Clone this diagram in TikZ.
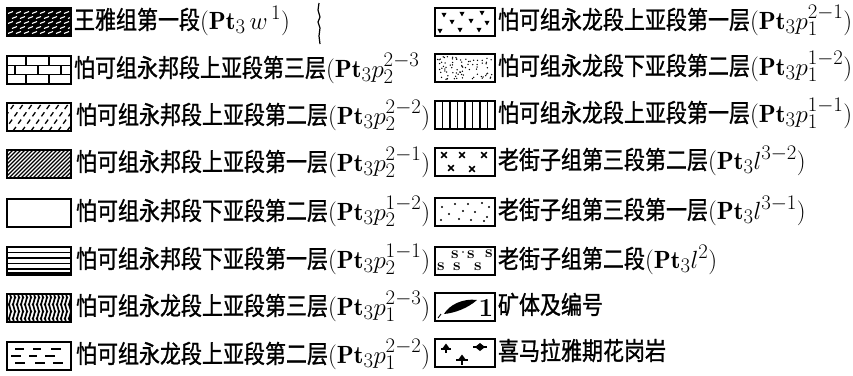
\documentclass[tikz,border=0pt]{standalone}
\usepackage{fontspec}
\usepackage{graphicx}
\newfontfamily\cjk[FakeBold=1.2]{Noto Sans CJK SC}
\newcommand\cn[1]{\scalebox{0.84}[1]{\fontsize{25}{27}\selectfont\cjk #1}}
\newcommand\fm[1]{{\fontsize{24.88}{27}\selectfont$#1$}}
\begin{document}
\begin{tikzpicture}[x=1pt,y=-1pt,
  frame/.style={draw=black,line width=1.9pt},
  lbl/.style={anchor=base west,inner sep=0pt,outer sep=0pt},
  patline/.style={line width=1.3pt},
  glyph/.style={inner sep=0pt,font=\bfseries\fontsize{17}{17}\selectfont}]
\useasboundingbox (0,0) rectangle (853,375);

% ---------- left column ----------
% L1 black with white dashes
\begin{scope}[shift={(7,8)}]
  \fill (0,0) rectangle (64,28);
  \begin{scope}
    \clip (0,0) rectangle (64,28);
    \foreach \r in {0,...,4}{
      \foreach \k in {0,...,8}{
        \draw[white,line width=1.1pt] ({\k*8+mod(\r,2)*4+1},{5.5+\r*5}) -- ++(5,-2);
      }
    }
  \end{scope}
  \draw[frame] (0,0) rectangle (64,28);
\end{scope}
% L2 brick
\begin{scope}[shift={(7,56)}]
  \draw[line width=1.5pt] (0,9.33) -- (64,9.33) (0,18.67) -- (64,18.67)
    (19,0) -- (19,9.33) (42,0) -- (42,9.33)
    (8,9.33) -- (8,18.67) (31,9.33) -- (31,18.67) (54,9.33) -- (54,18.67)
    (19,18.67) -- (19,28) (42,18.67) -- (42,28);
  \draw[frame] (0,0) rectangle (64,28);
\end{scope}
% L3 dashed diagonals
\begin{scope}[shift={(7,103)}]
  \begin{scope}
    \clip (0,0) rectangle (64,28);
    \foreach \x in {-30,-21,...,70}
      \draw[patline,dash pattern=on 5pt off 4pt] (\x,28) -- ++(20,-28);
  \end{scope}
  \draw[frame] (0,0) rectangle (64,28);
\end{scope}
% L4 hatch
\begin{scope}[shift={(7,150)}]
  \begin{scope}
    \clip (0,0) rectangle (64,28);
    \foreach \x in {-30,-26,...,66}
      \draw[line width=1.2pt] (\x,28) -- ++(28,-28);
  \end{scope}
  \draw[frame] (0,0) rectangle (64,28);
\end{scope}
% L5 empty
\begin{scope}[shift={(7,199)}]
  \draw[frame] (0,0) rectangle (64,28);
\end{scope}
% L6 horizontal lines
\begin{scope}[shift={(7,247)}]
  \draw[patline] (0,5.5) -- (64,5.5) (0,11) -- (64,11) (0,16.5) -- (64,16.5) (0,22) -- (64,22);
  \draw[line width=2.6pt] (0,26.5) -- (64,26.5);
  \draw[frame] (0,0) rectangle (64,28);
\end{scope}
% L7 wavy vertical lines
\begin{scope}[shift={(7,294)}]
  \begin{scope}
    \clip (0,0) rectangle (64,28);
    \foreach \x in {3,7,...,63}
      \draw[line width=1.7pt] (\x,0) sin ({\x+1.3},3.5) cos (\x,7) sin ({\x-1.3},10.5) cos (\x,14)
        sin ({\x+1.3},17.5) cos (\x,21) sin ({\x-1.3},24.5) cos (\x,28);
  \end{scope}
  \draw[frame] (0,0) rectangle (64,28);
\end{scope}
% L8 short dashes
\begin{scope}[shift={(7,342)}]
  \draw[patline] (8,7) -- (17,7) (26,7) -- (34,7) (44,7) -- (54,7)
    (4,14) -- (14,14) (22,14) -- (30,14) (38,14) -- (48,14)
    (8,21) -- (18,21) (28,21) -- (38,21) (46,21) -- (56,21);
  \draw[frame] (0,0) rectangle (64,28);
\end{scope}

% ---------- right column ----------
% R1 small triangles
\begin{scope}[shift={(435,8)}]
  \foreach \x/\y in {9/7,27/6,47/5,17/14,36/13,52/15,5/23,25/22,44/22}
    \fill (\x,\y) ++(-2.6,-2.2) -- ++(5.2,0) -- ++(-2.6,4.6) -- cycle;
  \draw[frame] (0,0) rectangle (60,28);
\end{scope}
% R2 fine dots
\begin{scope}[shift={(435,54)}]
  \pgfmathsetseed{7}
  \foreach \i in {1,...,80}
    \fill ({2.5+rnd*55},{2.5+rnd*23}) circle (0.75);
  \draw[frame] (0,0) rectangle (60,28);
\end{scope}
% R3 vertical lines
\begin{scope}[shift={(435,101)}]
  \foreach \x in {7.5,15,...,53}
    \draw[line width=1.6pt] (\x,0) -- (\x,28);
  \draw[frame] (0,0) rectangle (60,28);
\end{scope}
% R4 crosses
\begin{scope}[shift={(435,148)}]
  \foreach \x/\y in {9/7,27/7,49/7,16/20,37/21}
    \draw[line width=1.6pt] ({\x-2.8},{\y-2.8}) -- ({\x+2.8},{\y+2.8}) ({\x-2.8},{\y+2.8}) -- ({\x+2.8},{\y-2.8});
  \draw[frame] (0,0) rectangle (60,28);
\end{scope}
% R5 sparse dots
\begin{scope}[shift={(435,198)}]
  \foreach \x/\y in {7/9,20/6,33/6,47/5,54/9,14/16,28/13,40/14,52/19,6/22,24/21,36/22,49/23}
    \fill (\x,\y) circle (1.1);
  \draw[frame] (0,0) rectangle (60,28);
\end{scope}
% R6 s marks
\begin{scope}[shift={(435,247)}]
  \foreach \x/\y [count=\n] in {20/8,36/8,54/7,6/20,22/20,43/20}
    \node[glyph] (s\n) at (\x,\y) {s};
  \fill (28,5) circle (0.9);
  \draw[frame] (0,0) rectangle (60,28);
\end{scope}
% R7 ore body
\begin{scope}[shift={(435,293)}]
  \fill (9,21) .. controls (14,12) and (28,5) .. (42,7) .. controls (33,15) and (20,20) .. (9,21);
  \node[glyph,font=\bfseries\fontsize{26}{26}\selectfont] (one) at (51,15) {1};
  \draw[line width=0.9pt] (3,25) -- (6,21);
  \draw[frame] (0,0) rectangle (60,28);
\end{scope}
% R8 granite
\begin{scope}[shift={(435,339)}]
  \fill (11,4.5) -- (15,10) -- (7,10) -- cycle;
  \draw[line width=1.8pt] (6,10) -- (16,10) (11,10) -- (11,14);
  \fill (45,4) -- (50,8) -- (45,12) -- (40,8) -- cycle;
  \draw[line width=1.8pt] (38,8) -- (52,8);
  \fill (27,15.5) -- (31,21) -- (23,21) -- cycle;
  \draw[line width=1.8pt] (21,21) -- (33,21) (27,21) -- (27,26);
  \draw[frame] (0,0) rectangle (60,28);
\end{scope}

% small vertical mark near top
\draw[line width=1.2pt] (319,3) -- (318,10) -- (320,17) -- (318,22) -- (320,28) -- (319,36) -- (320,44);

% ---------- labels ----------
\node[lbl] (tL1) at (74,29)  {\cn{王雅组第一段}\fm{(\mathbf{Pt}_3\,w^{\,1})}};
\node[lbl] (tL2) at (74,77)  {\cn{怕可组永邦段上亚段第三层}\fm{(\mathbf{Pt}_3p_2^{2-3}}};
\node[lbl] (tL3) at (76,124) {\cn{怕可组永邦段上亚段第二层}\fm{(\mathbf{Pt}_3p_2^{2-2})}};
\node[lbl] (tL4) at (76,171) {\cn{怕可组永邦段上亚段第一层}\fm{(\mathbf{Pt}_3p_2^{2-1})}};
\node[lbl] (tL5) at (76,220) {\cn{怕可组永邦段下亚段第二层}\fm{(\mathbf{Pt}_3p_2^{1-2})}};
\node[lbl] (tL6) at (76,268) {\cn{怕可组永邦段下亚段第一层}\fm{(\mathbf{Pt}_3p_2^{1-1})}};
\node[lbl] (tL7) at (76,315) {\cn{怕可组永龙段上亚段第三层}\fm{(\mathbf{Pt}_3p_1^{2-3})}};
\node[lbl] (tL8) at (76,363) {\cn{怕可组永龙段上亚段第二层}\fm{(\mathbf{Pt}_3p_1^{2-2})}};

\node[lbl] (tR1) at (498,29)  {\cn{怕可组永龙段上亚段第一层}\fm{(\mathbf{Pt}_3p_1^{2-1})}};
\node[lbl] (tR2) at (498,75)  {\cn{怕可组永龙段下亚段第二层}\fm{(\mathbf{Pt}_3p_1^{1-2})}};
\node[lbl] (tR3) at (498,122) {\cn{怕可组永龙段上亚段第一层}\fm{(\mathbf{Pt}_3p_1^{1-1})}};
\node[lbl] (tR4) at (498,169) {\cn{老街子组第三段第二层}\fm{(\mathbf{Pt}_3l^{3-2})}};
\node[lbl] (tR5) at (498,219) {\cn{老街子组第三段第一层}\fm{(\mathbf{Pt}_3l^{3-1})}};
\node[lbl] (tR6) at (498,268) {\cn{老街子组第二段}\fm{(\mathbf{Pt}_3l^{2})}};
\node[lbl] (tR7) at (498,314) {\cn{矿体及编号}};
\node[lbl] (tR8) at (498,360) {\cn{喜马拉雅期花岗岩}};
\end{tikzpicture}
\end{document}
